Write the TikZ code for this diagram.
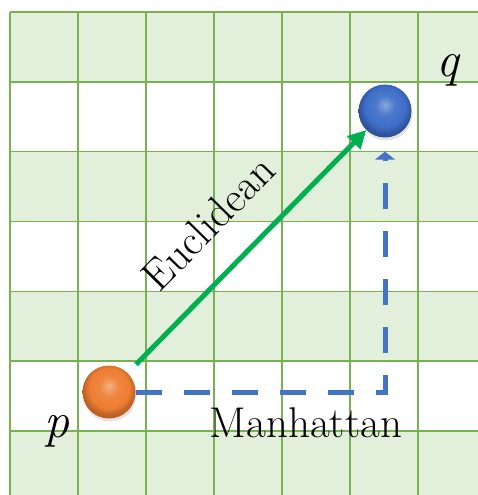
\documentclass[tikz,border=0pt]{standalone}
\usepackage{fontspec}
\usepackage{tikz}
\usetikzlibrary{arrows.meta,calc,shadows}
\definecolor{cellgreen}{RGB}{226,239,218}
\definecolor{gridgreen}{RGB}{118,178,80}
\definecolor{eucgreen}{RGB}{0,176,80}
\definecolor{manblue}{RGB}{68,114,196}
\definecolor{ballorange}{RGB}{237,125,49}
\definecolor{ballblue}{RGB}{62,110,200}
\pgfdeclareradialshading{orangeglow}{\pgfqpoint{0bp}{6bp}}{color(0bp)=(ballorange!60!white); color(9bp)=(ballorange!92!white); color(19bp)=(ballorange); color(25bp)=(ballorange!78!black); color(50bp)=(ballorange!78!black)}
\pgfdeclareradialshading{blueglow}{\pgfqpoint{0bp}{6bp}}{color(0bp)=(ballblue!60!white); color(9bp)=(ballblue!92!white); color(19bp)=(ballblue); color(25bp)=(ballblue!75!black); color(50bp)=(ballblue!75!black)}

\begin{document}
\begin{tikzpicture}[x=1pt, y=-1pt,
      gridline/.style={draw=gridgreen, line width=1.4pt},
      ball/.style={circle, minimum size=53pt, inner sep=0pt, drop shadow={opacity=0.22, shadow xshift=1pt, shadow yshift=-3pt}},
      lbl/.style={font=\fontsize{43}{47}\selectfont},
      pointlbl/.style={font=\fontsize{50}{54}\selectfont\itshape, anchor=base},
      euclid/.style={draw=eucgreen, line width=5pt, -{Triangle[length=18pt,width=18pt]}, shorten <=12pt},
      manh/.style={draw=manblue, line width=5pt, dash pattern=on 26pt off 22pt, -{Triangle[length=8pt,width=20pt]}, shorten >=14pt}
    ]
      \useasboundingbox (0,0) rectangle (478,495);
      \clip (0,0) rectangle (478,495);

      \foreach \r in {0,2,4,6}
        \fill[cellgreen] (10,{12+69.8*\r}) rectangle (478,{12+69.8*(\r+1)});
      \foreach \c in {0,...,6}
        \draw[gridline] ({10+68*\c},12) -- ({10+68*\c},495);
      \foreach \r in {0,...,6}
        \draw[gridline] (10,{12+69.8*\r}) -- (478,{12+69.8*\r});

      \node[ball, shading=orangeglow] (p) at (109,392) {};
      \node[ball, shading=blueglow] (q) at (385,111) {};

      \draw[euclid] (p) -- node[sloped, above=27pt, pos=0.48, lbl] (euc) {Euclidean} (q);
      \draw[manh] (p.east) -- (p.east -| q) -- (q.south);

      \node[lbl, anchor=base] (man) at (306,437) {Manhattan};
      \node[pointlbl] (plbl) at (57,437) {p};
      \node[pointlbl] (qlbl) at (448,77) {q};
    \end{tikzpicture}
\end{document}
